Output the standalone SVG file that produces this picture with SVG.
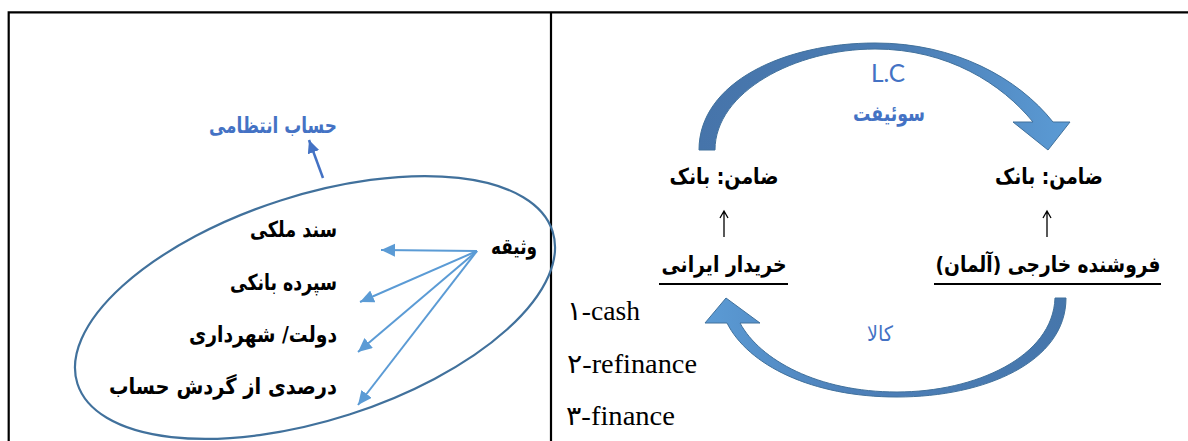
<svg xmlns="http://www.w3.org/2000/svg" width="1188" height="441" viewBox="0 0 1188 441">
<style>
.fa{font-family:"DejaVu Sans","Noto Sans",sans-serif;font-weight:bold;fill:#000;font-size:22px}
.fab{font-family:"DejaVu Sans","Noto Sans",sans-serif;font-weight:bold;fill:#4472c4;font-size:22px}
.lat{font-family:"Liberation Serif","DejaVu Sans",serif;font-size:27px;fill:#000}
.grid{stroke:#000;stroke-width:2.2;fill:none}
.col{stroke:#5b9bd5;stroke-width:2;fill:none}
.arc{stroke:#41719c;stroke-width:1;stroke-linejoin:miter}
.ul{stroke:#000;stroke-width:2}
.up{stroke:#000;stroke-width:1.3;fill:none}
</style>
<defs>
<marker id="hb" markerUnits="userSpaceOnUse" markerWidth="16" markerHeight="14" refX="14" refY="6.5" orient="auto">
<path d="M0,0 L14,6.5 L0,13 z" fill="#5b9bd5"/>
</marker>
<marker id="hd" markerUnits="userSpaceOnUse" markerWidth="16" markerHeight="14" refX="13" refY="6" orient="auto">
<path d="M0,0 L13,6 L0,12 z" fill="#4472c4"/>
</marker>
<linearGradient id="gTop" x1="0" y1="0" x2="1" y2="0">
<stop offset="0" stop-color="#4674aa"/>
<stop offset="0.55" stop-color="#4b7db4"/>
<stop offset="1" stop-color="#5b9bd5"/>
</linearGradient>
<linearGradient id="gBot" x1="0" y1="0" x2="1" y2="0">
<stop offset="0" stop-color="#5b9bd5"/>
<stop offset="0.4" stop-color="#4d80b9"/>
<stop offset="1" stop-color="#4676ab"/>
</linearGradient>
</defs>
<rect width="1188" height="441" fill="#fff"/>
<g id="table">
<path class="grid" d="M8.7,441 L8.7,12.3 L1188,12.3"/>
<path class="grid" d="M551,12.3 L551,441"/>
</g>
<g id="left-panel">
<ellipse id="collateral-ellipse" cx="315" cy="307.5" rx="249.5" ry="112.4" transform="rotate(-17.8 315 307.5)" fill="none" stroke="#41719c" stroke-width="2.2"/>
<g id="n-hesab"><text class="fab" x="337" y="133" text-anchor="end" textLength="128" lengthAdjust="spacingAndGlyphs">حساب انتظامی</text></g>
<g id="n-vasighe"><text class="fa" x="537" y="254" text-anchor="end" textLength="46" lengthAdjust="spacingAndGlyphs">وثیقه</text></g>
<g id="n-sanad"><text class="fa" x="337" y="237" text-anchor="end" textLength="87" lengthAdjust="spacingAndGlyphs">سند ملکی</text></g>
<g id="n-sepordeh"><text class="fa" x="337" y="290" text-anchor="end" textLength="107" lengthAdjust="spacingAndGlyphs">سپرده بانکی</text></g>
<g id="n-dolat"><text class="fa" x="337" y="342" text-anchor="end" textLength="148" lengthAdjust="spacingAndGlyphs">دولت/ شهرداری</text></g>
<g id="n-darsad"><text class="fa" x="337" y="394" text-anchor="end" textLength="228" lengthAdjust="spacingAndGlyphs">درصدی از گردش حساب</text></g>
</g>
<g id="right-panel">
<g id="n-lc"><text x="888" y="82" text-anchor="middle" font-family="Lato,'Open Sans',sans-serif" font-size="25" fill="#4472c4" textLength="34" lengthAdjust="spacingAndGlyphs">L.C</text></g>
<g id="n-swift"><text class="fab" x="889" y="121" text-anchor="middle" textLength="72" lengthAdjust="spacingAndGlyphs">سوئیفت</text></g>
<g id="n-bank-buyer"><text class="fa" x="724" y="184" text-anchor="middle" textLength="109" lengthAdjust="spacingAndGlyphs">ضامن: بانک</text></g>
<g id="n-bank-seller"><text class="fa" x="1049" y="184" text-anchor="middle" textLength="108" lengthAdjust="spacingAndGlyphs">ضامن: بانک</text></g>
<g id="n-buyer"><text class="fa" x="724" y="272" text-anchor="middle" textLength="125" lengthAdjust="spacingAndGlyphs">خریدار ایرانی</text>
<line class="ul" x1="659" y1="284" x2="788" y2="284"/></g>
<g id="n-seller"><text class="fa" x="1048" y="272" text-anchor="middle" textLength="225" lengthAdjust="spacingAndGlyphs">فروشنده خارجی (آلمان)</text>
<line class="ul" x1="934" y1="284" x2="1161" y2="284"/></g>
<g id="n-kala"><text x="880" y="341" text-anchor="middle" font-family="'DejaVu Sans',sans-serif" font-size="21" fill="#4472c4" textLength="26" lengthAdjust="spacingAndGlyphs">کالا</text></g>
<g id="n-list">
<text class="lat" x="567" y="320" textLength="73" lengthAdjust="spacingAndGlyphs">۱-cash</text>
<text class="lat" x="567" y="373" textLength="130" lengthAdjust="spacingAndGlyphs">۲-refinance</text>
<text class="lat" x="566" y="425" textLength="109" lengthAdjust="spacingAndGlyphs">۳-finance</text>
</g>
</g>
<g id="connectors">
<line class="col" x1="477" y1="251" x2="381" y2="250" marker-end="url(#hb)"/>
<line class="col" x1="477" y1="251" x2="360" y2="302" marker-end="url(#hb)"/>
<line class="col" x1="477" y1="251" x2="358" y2="352" marker-end="url(#hb)"/>
<line class="col" x1="477" y1="251" x2="358" y2="405" marker-end="url(#hb)"/>
<line x1="323" y1="178" x2="309" y2="140" stroke="#4472c4" stroke-width="2.5" marker-end="url(#hd)"/>
<path class="up" d="M724,237 L724,212 M720,218 L724,211 L728,218"/>
<path class="up" d="M1047,237 L1047,212 M1043,218 L1047,211 L1051,218"/>
<path id="arc-top" class="arc" fill="url(#gTop)" d="M699,150 C699,82 785,43 875,43 C955,43 1018,78 1053,122 L1070,122 L1048,150 L1013,122 L1033,122 C1002,84 948,49 875,49 C795,49 715,92 715,150 Z"/>
<path id="arc-bottom" class="arc" fill="url(#gBot)" d="M1066,298 C1066,362 985,397 897,397 C812,397 748,365 727,323 L705,323 L726,298 L760,323 L740,323 C760,360 818,392 897,392 C975,392 1053,357 1055,298 Z"/>
</g>
</svg>
